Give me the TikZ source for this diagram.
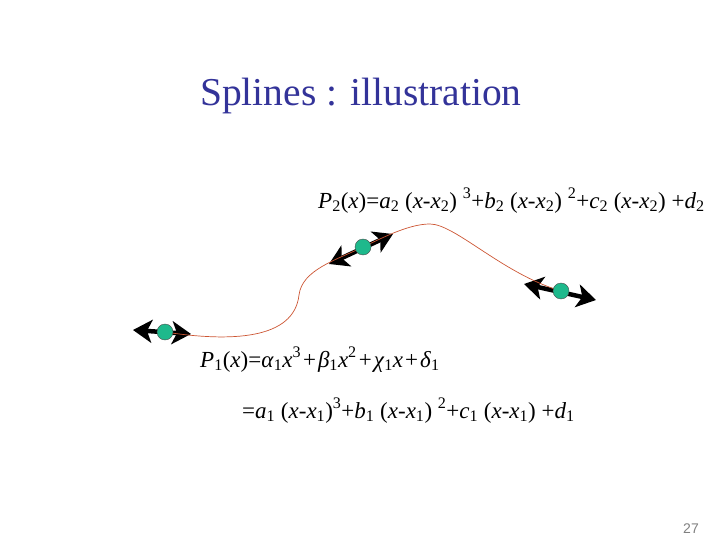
\documentclass[tikz,border=0pt]{standalone}
\usepackage{fontspec}
\setmainfont{Liberation Serif}
\setsansfont{Liberation Sans}
\usetikzlibrary{arrows.meta}
\definecolor{titleblue}{RGB}{51,51,153}
\definecolor{knotgreen}{RGB}{30,185,140}
\definecolor{splinered}{RGB}{204,85,51}
\newcommand{\vsub}[2]{\textit{#1}\textsubscript{#2}}
\newcommand{\wplus}{\hspace{2pt}+\hspace{2pt}}

\begin{document}
\begin{tikzpicture}[x=1pt,y=-1pt,
 knot/.style={circle,draw=black!70,fill=knotgreen,inner sep=0pt,minimum size=16pt,thin},
 tangent/.style={{Stealth[length=19pt,width=23pt,inset=5pt]}-{Stealth[length=19pt,width=23pt,inset=5pt]},line width=4.5pt},
 spline/.style={splinered,line width=0.7pt},
 eq/.style={anchor=base west,inner sep=0pt,font=\fontsize{23}{27}\selectfont}]
\useasboundingbox (0,0) rectangle (720,540);
\node[anchor=base west,inner sep=0pt,text=titleblue,font=\fontsize{39.5}{44}\selectfont] (title) at (200,106) {Splines : illustration};
% knots and tangents
\coordinate (c0) at (165,332); \coordinate (c1) at (363,247); \coordinate (c2) at (561,291);
\coordinate (t0a) at (133,330); \coordinate (t0b) at (191,334);
\coordinate (t1a) at (329,264); \coordinate (t1b) at (393,234);
\coordinate (t2a) at (524,284); \coordinate (t2b) at (596,300);
\coordinate (w1) at (299,295); \coordinate (w2) at (430,224);
\draw[tangent] (t0a) -- (t0b);
\draw[tangent] (t1a) -- (t1b);
\draw[tangent] (t2a) -- (t2b);
\draw[spline] (c0) .. controls (230,342) and (294,340) .. (w1) .. controls (302,270) and (336,260) .. (c1)
 .. controls (386,236) and (410,224) .. (w2) .. controls (455,224) and (503,274) .. (c2);
\node[knot] (k0) at (c0) {}; \node[knot] (k1) at (c1) {}; \node[knot] (k2) at (c2) {};
% equations
\node[eq] (p2eq) at (318,208) {\vsub{P}{2}(\textit{x})=\vsub{a}{2} (\textit{x}-\vsub{x}{2}) \textsuperscript{3}+\vsub{b}{2} (\textit{x}-\vsub{x}{2}) \textsuperscript{2}+\vsub{c}{2} (\textit{x}-\vsub{x}{2}) +\vsub{d}{2}};
\node[eq] (p1eq) at (200,367) {\vsub{P}{1}(\textit{x})=\vsub{α}{1}\textit{x}\textsuperscript{3}\wplus\vsub{β}{1}\textit{x}\textsuperscript{2}\wplus\vsub{χ}{1}\textit{x}\wplus\vsub{δ}{1}};
\node[eq] (p1alt) at (242,418) {=\vsub{a}{1} (\textit{x}-\vsub{x}{1})\textsuperscript{3}+\vsub{b}{1} (\textit{x}-\vsub{x}{1}) \textsuperscript{2}+\vsub{c}{1} (\textit{x}-\vsub{x}{1}) +\vsub{d}{1}};
\node[anchor=base east,inner sep=0pt,text=gray,font=\sffamily\fontsize{14}{16}\selectfont] (page) at (699,533) {27};
\end{tikzpicture}
\end{document}
